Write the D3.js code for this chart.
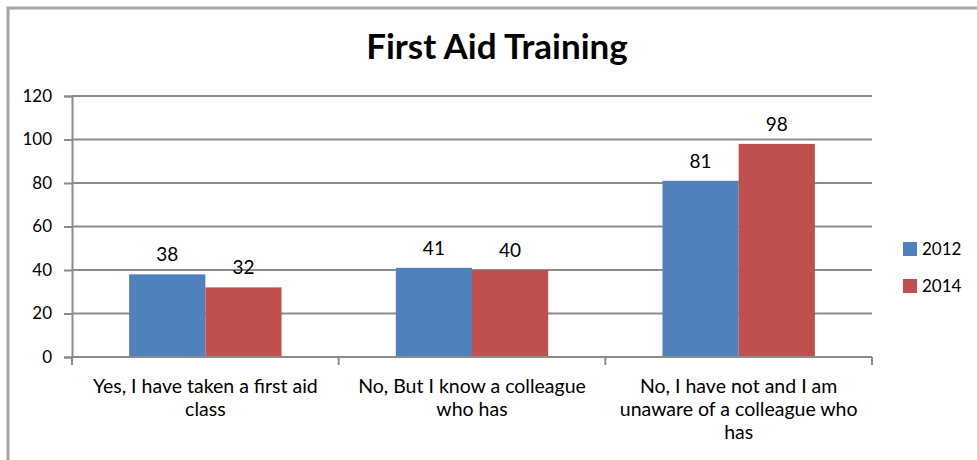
<!DOCTYPE html>
<html>
<head>
<meta charset="utf-8">
<script src="https://cdn.jsdelivr.net/npm/d3@7"></script>
<style>
  body { margin: 0; background: #fff; }
  svg { display: block; font-family: Lato, "Open Sans", sans-serif; }
</style>
</head>
<body>
<svg id="chart" width="977" height="460"></svg>
<script>
// categories (already split into the lines shown under the axis)
var categories = ["yes", "colleague", "unaware"];
var categoryLines = [
    ["Yes, I have taken a first aid", "class"],
    ["No, But I know a colleague", "who has"],
    ["No, I have not and I am", "unaware of a colleague who", "has"]
];
var series = ["2012", "2014"];
var values2012 = [38, 41, 81];
var values2014 = [32, 40, 98];
var yTicks = [0, 20, 40, 60, 80, 100, 120];
var colors = ["#4f81bd", "#c0504d"];

var svg = d3.select("#chart");
var margin = { left: 72, right: 105, top: 96, bottom: 103 };
var width = +svg.attr("width"),
    height = +svg.attr("height");

// outer chart frame (only top and left are in view)
svg.append("rect")
    .attr("x", 8).attr("y", 8)
    .attr("width", 1100).attr("height", 600)
    .attr("fill", "none")
    .attr("stroke", "#a6a6a6")
    .attr("stroke-width", 3);

svg.append("text")
    .attr("x", 497).attr("y", 59)
    .attr("text-anchor", "middle")
    .style("font-size", "35px")
    .style("font-weight", "bold")
    .attr("fill", "#000")
    .text("First Aid Training");

var x = d3.scaleBand()
    .domain(categories)
    .range([margin.left, width - margin.right])
    .padding(0);

var xs = d3.scaleBand()
    .domain(series)
    .range([0, x.bandwidth()])
    .paddingInner(0)
    .paddingOuter(0.75);

var y = d3.scaleLinear()
    .domain([0, 120])
    .range([height - margin.bottom, margin.top]);

var g = svg.append("g");

// gridlines
g.selectAll("line.grid")
    .data(yTicks)
    .enter().append("line")
    .attr("class", "grid")
    .attr("x1", margin.left).attr("x2", width - margin.right)
    .attr("y1", function(d) { return y(d); })
    .attr("y2", function(d) { return y(d); })
    .attr("stroke", "#8c8c8c")
    .attr("stroke-width", 2);

// y axis
var yAxis = g.append("g")
    .attr("transform", "translate(" + margin.left + ",0)")
    .call(d3.axisLeft(y).tickValues(yTicks).tickSize(8).tickPadding(12));
yAxis.select(".domain").attr("stroke", "#8c8c8c").attr("stroke-width", 2);
yAxis.selectAll(".tick line").attr("stroke", "#8c8c8c").attr("stroke-width", 2);
yAxis.selectAll(".tick text")
    .style("font-size", "17px")
    .style("font-family", "Lato, sans-serif")
    .attr("fill", "#000");

// bars
var rows = categories.map(function(c, i) {
    return { cat: c, vals: [values2012[i], values2014[i]] };
});

var groups = g.selectAll("g.cat")
    .data(rows)
    .enter().append("g")
    .attr("class", "cat")
    .attr("transform", function(d) { return "translate(" + x(d.cat) + ",0)"; });

groups.selectAll("rect")
    .data(function(d) {
        return d.vals.map(function(v, j) { return { s: series[j], v: v, j: j }; });
    })
    .enter().append("rect")
    .attr("x", function(d) { return xs(d.s); })
    .attr("width", xs.bandwidth())
    .attr("y", function(d) { return y(d.v); })
    .attr("height", function(d) { return y(0) - y(d.v); })
    .attr("fill", function(d) { return colors[d.j]; });

groups.selectAll("text.val")
    .data(function(d) {
        return d.vals.map(function(v, j) { return { s: series[j], v: v }; });
    })
    .enter().append("text")
    .attr("class", "val")
    .attr("x", function(d) { return xs(d.s) + xs.bandwidth() / 2; })
    .attr("y", function(d) { return y(d.v) - 13; })
    .attr("text-anchor", "middle")
    .style("font-size", "19px")
    .attr("fill", "#000")
    .text(function(d) { return d.v; });

// x axis line and boundary ticks
g.append("line")
    .attr("x1", margin.left).attr("x2", width - margin.right)
    .attr("y1", y(0)).attr("y2", y(0))
    .attr("stroke", "#8c8c8c").attr("stroke-width", 2);

var bounds = categories.map(function(c) { return x(c); }).concat([x.range()[1]]);
g.selectAll("line.xt")
    .data(bounds)
    .enter().append("line")
    .attr("class", "xt")
    .attr("x1", function(d) { return d; }).attr("x2", function(d) { return d; })
    .attr("y1", y(0)).attr("y2", y(0) + 8)
    .attr("stroke", "#8c8c8c").attr("stroke-width", 2);

// category labels
g.selectAll("text.cat")
    .data(categories)
    .enter().append("text")
    .attr("class", "cat")
    .attr("text-anchor", "middle")
    .style("font-size", "19.5px")
    .attr("fill", "#000")
    .each(function(c, i) {
        var t = d3.select(this);
        categoryLines[i].forEach(function(line, k) {
            t.append("tspan")
                .attr("x", x(c) + x.bandwidth() / 2)
                .attr("y", y(0) + 36 + k * 23)
                .text(line);
        });
    });

// legend
var legend = svg.append("g")
    .attr("transform", "translate(903,242)");
var li = legend.selectAll("g")
    .data(series)
    .enter().append("g")
    .attr("transform", function(d, i) { return "translate(0," + i * 37 + ")"; });
li.append("rect")
    .attr("width", 14).attr("height", 14)
    .attr("fill", function(d, i) { return colors[i]; });
li.append("text")
    .attr("x", 19).attr("y", 13)
    .style("font-size", "17px")
    .attr("fill", "#000")
    .text(function(d) { return d; });
</script>
</body>
</html>
